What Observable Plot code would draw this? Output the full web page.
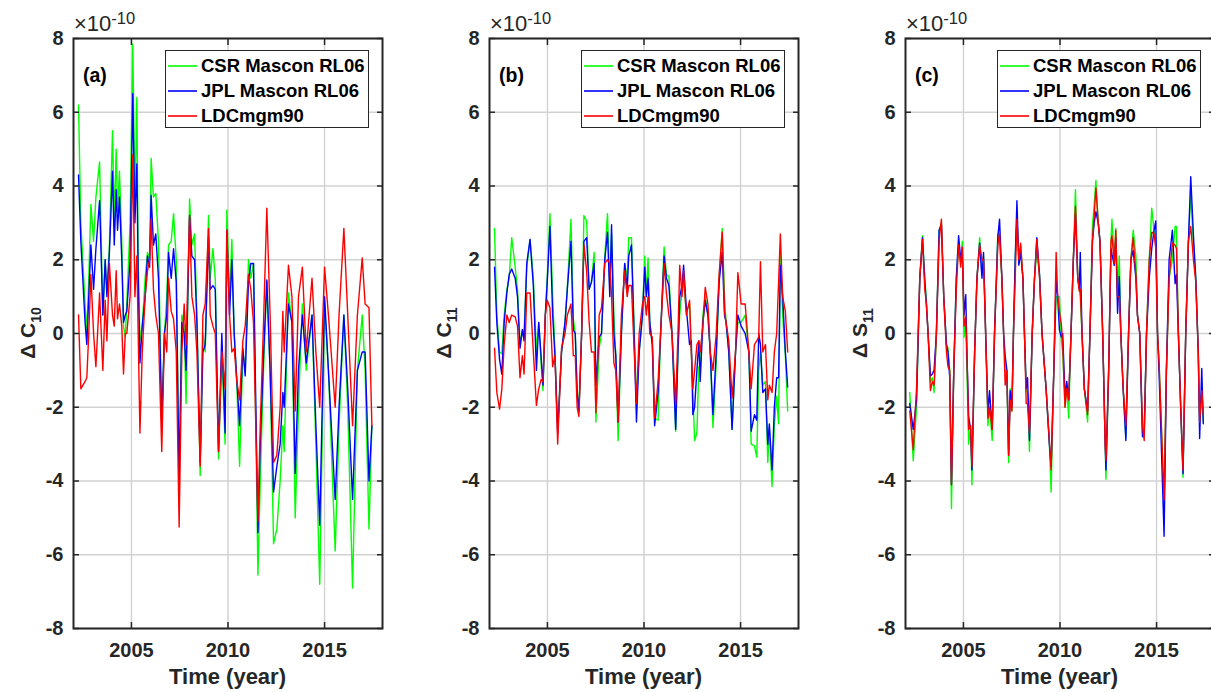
<!DOCTYPE html>
<html><head><meta charset="utf-8">
<script src="https://cdn.jsdelivr.net/npm/d3@7"></script>
<script src="https://cdn.jsdelivr.net/npm/@observablehq/plot@0.6"></script>
<style>
html,body{margin:0;padding:0;background:#fff;overflow:hidden;}
body{width:1211px;height:692px;position:relative;font-family:"Liberation Sans",Arial,Helvetica,sans-serif;color:#262626;}
.panel{position:absolute;top:0;width:404px;height:692px;}
.panel > svg{position:absolute;left:0;top:0;}
.ov{position:absolute;white-space:nowrap;line-height:1;}
.legend{position:absolute;box-sizing:border-box;border:1.5px solid #262626;background:#fff;}
.row{position:absolute;left:0;height:24px;display:flex;align-items:center;font-weight:bold;font-size:18.5px;color:#000;}
.swatch{display:block;flex:none;margin-left:2px;margin-right:4px;}
</style></head>
<body>
<script>
// ---------- data (values ×1e-10) ----------
const seriesNames = ["CSR Mascon RL06", "JPL Mascon RL06", "LDCmgm90"];
const seriesColors = ["#00ff00", "#0000ff", "#ff0000"];
const xTicks = [2005, 2010, 2015];
const yTicks = [-8, -6, -4, -2, 0, 2, 4, 6, 8];

// Panel (a): ΔC10
const yearsA = [2002.26,2002.38,2002.60,2002.69,2002.79,2002.90,2003.04,2003.16,2003.35,2003.52,
 2003.64,2003.73,2003.86,2004.02,2004.11,2004.21,2004.28,2004.38,2004.50,2004.59,
 2004.68,2004.76,2004.93,2005.07,2005.18,2005.28,2005.35,2005.44,2005.56,2005.71,
 2005.83,2005.94,2006.02,2006.14,2006.26,2006.40,2006.57,2006.71,2006.83,2006.92,
 2007.06,2007.18,2007.32,2007.47,2007.61,2007.73,2007.83,2008.01,2008.13,2008.27,
 2008.39,2008.56,2008.70,2008.82,2008.99,2009.08,2009.22,2009.34,2009.51,2009.68,
 2009.85,2009.94,2010.08,2010.20,2010.32,2010.46,2010.60,2010.77,2010.89,2011.06,
 2011.18,2011.32,2011.55,2011.67,2011.84,2012.01,2012.18,2012.36,2012.53,2012.70,
 2012.84,2012.91,2013.13,2013.31,2013.48,2013.65,2013.85,2014.05,2014.35,2014.55,
 2014.75,2015.00,2015.20,2015.55,2015.75,2016.00,2016.20,2016.45,2016.70,2016.95,
 2017.10,2017.30,2017.45];
const csrA = [6.2,3.0,0.8,0.0,1.5,3.5,2.5,3.7,4.65,0.5,
 2.0,1.2,2.4,5.5,3.0,5.0,3.3,4.4,2.5,0.2,
 -0.1,0.8,3.0,7.85,3.5,6.4,2.0,-0.2,0.2,1.5,
 2.2,2.0,4.75,3.7,3.8,2.5,-2.4,0.0,1.0,2.4,
 2.5,3.25,2.0,-4.0,0.5,0.2,-1.9,3.65,2.4,2.7,
 0.5,-3.85,0.0,-0.5,3.2,1.5,2.3,1.5,-3.4,-0.5,
 -3.0,3.35,1.0,2.55,0.0,-1.4,-3.6,-0.5,-1.0,2.0,
 1.5,1.9,-6.55,-4.0,-1.0,1.4,-1.0,-5.7,-5.3,-4.0,
 -2.5,-3.2,1.1,0.3,-5.0,-2.0,0.8,-1.0,0.5,-3.0,
 -6.8,0.8,-1.0,-5.9,-2.5,0.5,-2.0,-6.9,-1.0,0.5,
 -1.0,-5.3,-2.5];
const jplA = [4.3,2.5,0.3,-0.3,1.0,2.4,1.2,2.3,3.6,0.5,
 2.0,1.0,2.2,4.4,2.4,3.9,2.8,3.7,2.0,0.3,
 0.5,0.6,2.0,6.5,3.0,4.6,1.5,-0.8,0.2,1.0,
 2.1,1.8,3.75,2.4,2.7,1.5,-2.4,0.0,0.5,2.2,
 1.5,2.3,1.4,-4.0,0.3,0.0,-1.0,3.2,2.1,2.0,
 0.3,-3.5,-0.5,-0.3,2.6,1.2,1.3,1.2,-3.2,0.0,
 -2.7,2.8,0.5,2.0,0.0,-1.3,-2.5,-0.4,-1.15,1.4,
 1.9,1.9,-5.4,-3.0,-0.6,1.45,-1.0,-4.3,-3.6,-3.0,
 -1.6,-2.0,0.8,0.3,-3.8,-1.0,0.5,-0.8,0.5,-2.5,
 -5.2,1.0,-1.0,-4.5,-2.0,0.5,-1.5,-4.5,-1.0,-0.5,
 -0.5,-4.0,-2.5];
const ldcA = [0.5,-1.5,-1.3,-1.2,0.0,1.6,0.0,-0.9,1.1,-1.0,
 0.9,-0.2,1.9,0.5,0.2,1.7,0.4,0.8,0.2,-1.1,
 0.0,0.0,1.0,4.85,1.0,2.1,0.0,-2.7,-0.5,1.0,
 1.7,2.0,3.1,1.2,0.5,0.0,-3.2,0.0,-0.5,1.5,
 0.6,0.4,-0.5,-5.25,-0.5,0.8,-0.3,3.2,1.0,0.5,
 -0.5,-3.6,0.5,0.8,2.85,0.5,0.2,0.0,-3.2,-0.5,
 -1.5,2.8,0.5,-0.5,-0.4,-1.3,-1.8,-0.2,0.2,1.6,
 1.2,0.3,-5.1,-2.5,0.3,3.4,0.5,-3.5,-3.3,-2.0,
 0.6,-0.5,1.85,1.0,-2.1,1.0,1.8,-0.5,1.5,-0.5,
 -2.0,1.8,0.5,-2.0,0.5,2.85,0.5,-2.5,0.5,2.05,
 0.8,0.7,-2.5];

// Panel (b): ΔC11
const yearsB = [2002.26,2002.38,2002.52,2002.64,2002.76,2002.90,2003.02,2003.15,2003.33,2003.45,
 2003.58,2003.70,2003.79,2003.93,2004.10,2004.27,2004.43,2004.55,2004.67,2004.77,
 2004.89,2004.99,2005.13,2005.27,2005.39,2005.53,2005.73,2005.91,2006.03,2006.22,
 2006.34,2006.44,2006.54,2006.63,2006.77,2006.89,2007.03,2007.16,2007.28,2007.42,
 2007.51,2007.68,2007.80,2007.97,2008.11,2008.23,2008.32,2008.44,2008.54,2008.66,
 2008.83,2009.00,2009.13,2009.21,2009.35,2009.47,2009.61,2009.75,2009.92,2010.04,
 2010.12,2010.21,2010.30,2010.43,2010.55,2010.73,2010.86,2011.04,2011.16,2011.29,
 2011.45,2011.64,2011.76,2011.85,2011.97,2012.05,2012.19,2012.36,2012.45,2012.53,
 2012.62,2012.74,2012.84,2012.91,2013.05,2013.17,2013.31,2013.43,2013.57,2013.74,
 2013.89,2014.05,2014.17,2014.25,2014.39,2014.56,2014.74,2014.86,2015.03,2015.24,
 2015.43,2015.55,2015.72,2015.84,2015.94,2016.03,2016.15,2016.29,2016.41,2016.49,
 2016.63,2016.75,2016.87,2016.97,2017.06,2017.18,2017.32,2017.44];
const csrB = [2.85,0.5,-0.5,-0.55,0.5,1.2,1.5,2.6,1.8,1.2,
 -0.3,0.1,0.0,1.8,2.55,1.5,-0.5,0.3,-0.8,-1.55,
 0.5,1.5,3.25,1.0,-0.5,-2.6,-0.5,0.3,1.25,3.1,
 0.4,0.0,-1.5,-2.1,0.0,3.2,3.05,1.2,1.4,2.2,
 -2.4,-0.4,0.0,2.1,3.25,1.2,2.7,0.5,-0.6,-2.9,
 0.0,1.9,1.5,2.6,2.6,0.5,-1.8,-0.5,0.5,2.1,
 1.0,2.05,0.3,-0.3,-2.3,-2.35,0.0,2.35,1.6,1.55,
 0.0,-2.65,-0.5,0.5,1.2,1.4,0.6,0.8,-0.5,-1.6,
 -2.9,-2.7,-0.9,-0.9,0.5,1.0,0.5,-0.5,-2.55,-0.8,
 1.5,2.85,1.0,0.3,-0.5,-2.6,-0.5,0.3,0.3,0.5,
 -0.5,-3.0,-3.05,-3.35,-1.0,-0.5,-1.4,-1.3,-3.5,-2.6,
 -4.15,-2.5,-1.7,-2.45,2.15,0.5,-0.6,-2.1];
const jplB = [1.8,0.3,-0.7,-1.1,0.3,1.1,1.6,1.75,1.5,1.0,
 -0.4,0.1,-0.2,1.9,2.55,1.3,-1.0,0.3,-0.6,-1.4,
 0.5,1.4,2.9,0.5,-0.6,-2.7,-0.5,0.3,1.2,2.5,
 0.1,0.0,-1.65,-2.1,0.0,2.5,2.6,1.2,1.4,1.9,
 -1.4,-0.1,0.0,2.0,2.75,1.0,2.95,0.0,-0.6,-2.4,
 0.0,1.9,1.2,2.1,2.4,0.3,-2.4,-0.5,0.5,1.8,
 1.0,1.5,0.3,-0.3,-2.5,-1.6,0.0,2.1,1.5,1.3,
 0.0,-2.6,-0.5,1.0,1.3,1.85,0.7,-0.3,-0.2,-2.2,
 -2.0,-1.0,-0.2,-1.3,0.3,0.9,0.5,-0.5,-2.2,-0.5,
 1.4,2.2,0.5,0.3,-0.5,-2.6,-0.5,0.5,0.2,0.0,
 -0.5,-2.65,-2.2,-2.35,0.0,-0.3,-1.6,-1.5,-3.0,-2.45,
 -3.7,-2.0,-1.2,-1.2,1.85,1.0,-0.5,-1.45];
const ldcB = [-0.4,-1.6,-2.05,-1.5,-0.3,0.5,0.3,0.5,0.45,0.2,
 -1.2,-0.6,-1.1,1.1,1.1,-0.5,-1.95,-1.5,-1.25,-1.3,
 0.5,0.9,0.7,-0.9,-0.6,-3.0,-0.4,0.0,0.5,0.8,
 -0.6,-0.6,-2.0,-2.25,0.0,2.4,1.7,0.3,-0.5,-0.5,
 -2.15,0.5,0.7,1.9,2.0,1.9,1.0,-0.8,-1.0,-2.4,
 0.5,1.7,1.0,1.3,1.3,-0.2,-1.9,0.0,0.8,1.0,
 0.5,1.0,0.0,-0.1,-2.3,-1.3,0.0,1.9,1.1,0.5,
 0.0,-1.9,0.0,1.85,1.0,1.7,0.5,0.9,-0.5,-1.5,
 -1.0,-0.3,-0.2,-0.5,0.2,1.25,0.8,-0.5,-1.0,0.0,
 1.6,2.75,0.6,0.3,-0.2,-1.75,-0.5,1.65,0.8,0.8,
 -0.5,-1.5,-0.3,-0.2,-0.1,1.95,-0.5,-0.3,-1.8,-1.4,
 -1.6,-0.5,0.0,1.4,2.7,1.0,0.6,-0.5];

// Panel (c): ΔS11
const yearsC = [2002.22,2002.40,2002.57,2002.74,2002.88,2003.00,2003.08,2003.17,2003.29,2003.39,
 2003.48,2003.60,2003.74,2003.86,2003.98,2004.12,2004.20,2004.29,2004.38,2004.50,
 2004.63,2004.75,2004.86,2004.94,2005.03,2005.12,2005.18,2005.27,2005.37,2005.44,
 2005.58,2005.70,2005.84,2005.96,2006.04,2006.15,2006.27,2006.35,2006.49,2006.61,
 2006.78,2006.87,2006.99,2007.08,2007.16,2007.25,2007.34,2007.42,2007.51,2007.59,
 2007.68,2007.77,2007.87,2007.96,2008.08,2008.16,2008.25,2008.32,2008.42,2008.56,
 2008.68,2008.80,2008.94,2009.07,2009.28,2009.45,2009.54,2009.68,2009.80,2009.88,
 2009.97,2010.07,2010.14,2010.26,2010.35,2010.45,2010.57,2010.69,2010.80,2010.92,
 2011.00,2011.05,2011.14,2011.26,2011.43,2011.55,2011.68,2011.77,2011.86,2011.98,
 2012.07,2012.21,2012.34,2012.38,2012.52,2012.64,2012.69,2012.81,2012.89,2012.98,
 2013.07,2013.15,2013.27,2013.41,2013.55,2013.67,2013.79,2013.93,2014.01,2014.13,
 2014.27,2014.36,2014.48,2014.62,2014.75,2014.87,2014.96,2015.05,2015.13,2015.39,
 2015.51,2015.65,2015.82,2015.96,2016.03,2016.13,2016.25,2016.37,2016.51,2016.65,
 2016.77,2016.91,2017.03,2017.16,2017.23,2017.34,2017.42];
const csrC = [-1.6,-3.45,-2.0,1.5,2.65,1.5,0.9,0.0,-1.3,-1.2,
 -1.6,0.0,2.8,3.0,1.0,-0.3,-0.4,-1.0,-4.75,-1.0,
 1.5,2.4,1.9,2.5,-0.1,0.3,-1.0,-3.0,-2.5,-4.1,
 -0.5,1.5,2.6,1.6,2.1,0.0,-2.5,-2.0,-2.9,0.0,
 2.7,2.5,1.5,0.0,-1.0,-1.2,-3.5,-1.5,-2.1,0.0,
 2.0,3.2,1.9,2.4,1.5,0.0,-1.55,-1.6,-3.2,0.0,
 1.5,2.2,1.6,0.0,-1.5,-3.0,-4.3,-1.0,1.0,1.0,
 1.0,-0.2,-0.5,-2.0,-1.4,-2.3,0.0,2.0,3.9,1.5,
 1.2,1.0,0.0,-1.5,-2.4,0.0,2.9,3.5,4.15,3.0,
 2.5,0.0,-3.0,-3.95,-1.0,2.5,3.1,2.0,2.85,1.0,
 2.1,0.0,-1.5,-2.8,0.0,2.0,2.8,2.1,0.5,0.0,
 -2.7,-2.7,0.0,2.0,3.4,2.8,2.5,0.0,-0.8,-4.6,
 -1.0,1.5,2.0,2.9,2.9,0.0,-2.0,-3.9,0.0,2.5,
 3.8,2.4,1.5,-0.5,-2.4,-1.5,-2.4];
const jplC = [-1.9,-2.6,-1.8,1.5,2.6,1.4,0.8,0.0,-1.15,-1.1,
 -1.0,0.0,2.8,2.95,1.0,-0.3,-0.5,-1.2,-4.1,-1.0,
 1.5,2.65,2.0,2.3,0.5,1.05,-0.5,-2.25,-2.6,-3.7,
 -0.5,1.5,2.45,1.5,2.2,0.0,-2.2,-1.55,-2.6,0.0,
 2.6,3.1,1.5,0.0,-0.6,-1.0,-3.3,-1.55,-2.0,0.0,
 2.0,3.6,1.85,2.2,1.5,0.0,-1.5,-1.2,-2.9,0.0,
 1.5,2.6,1.6,0.0,-1.5,-3.0,-3.6,-1.0,1.5,1.0,
 0.1,-0.1,0.0,-1.7,-1.3,-1.8,0.0,2.0,3.25,1.5,
 1.2,2.2,0.0,-1.5,-2.1,0.0,2.5,3.0,3.3,3.0,
 2.5,0.0,-3.0,-3.7,-1.0,2.3,2.15,1.85,2.6,0.55,
 1.55,0.0,-1.5,-2.9,0.0,2.0,2.25,1.5,0.5,0.0,
 -2.8,-2.7,0.0,1.5,2.3,2.8,3.05,0.0,-1.05,-5.5,
 -1.0,2.0,2.8,1.35,1.6,0.0,-2.0,-3.8,0.0,2.5,
 4.25,2.65,1.5,-0.5,-2.85,-0.95,-2.45];
const ldcC = [-2.1,-3.15,-1.5,1.5,2.55,1.2,0.8,0.0,-1.55,-1.3,
 -1.4,0.0,2.5,3.1,1.0,-0.5,-0.9,-1.0,-4.1,-1.0,
 1.2,2.4,1.8,2.35,0.2,0.45,-0.5,-2.6,-2.5,-3.6,
 -0.5,1.5,2.4,2.0,2.0,0.0,-2.3,-2.0,-2.6,0.0,
 2.4,2.7,1.5,0.0,-1.4,-1.0,-3.3,-1.8,-2.1,0.0,
 1.5,3.1,2.0,2.45,1.5,0.0,-1.9,-1.9,-2.7,0.0,
 1.5,2.55,1.5,0.0,-1.5,-2.9,-3.7,-1.0,2.2,1.0,
 0.6,0.25,-0.3,-2.0,-1.5,-1.8,0.0,2.0,3.45,1.5,
 1.15,1.2,0.0,-1.5,-2.2,0.0,2.5,3.2,3.95,3.0,
 2.5,0.0,-3.0,-3.45,-1.0,2.5,2.65,1.9,2.8,1.0,
 1.0,0.0,-1.5,-2.5,0.0,2.0,2.6,1.6,0.5,0.0,
 -2.5,-2.9,0.0,2.0,2.75,2.7,2.3,0.0,-0.8,-4.5,
 -1.0,1.5,2.45,2.4,2.3,0.0,-2.0,-3.7,0.0,2.5,
 2.9,2.0,1.4,-0.5,-2.4,-1.55,-2.2];

// ---------- layout ----------
const panels = [
  {left: 0,   tag: "(a)", ylab: "Δ C", ysub: "10", years: yearsA, vals: [csrA, jplA, ldcA]},
  {left: 416, tag: "(b)", ylab: "Δ C", ysub: "11", years: yearsB, vals: [csrB, jplB, ldcB]},
  {left: 832, tag: "(c)", ylab: "Δ S", ysub: "11", years: yearsC, vals: [csrC, jplC, ldcC]}
];
const W = 404, H = 692, mL = 73, mR = 22, mT = 38, mB = 64;
const INK = "#262626";

for (const p of panels) {
  p.vals.forEach((v, i) => { if (v.length !== p.years.length) console.error(p.tag, seriesNames[i], v.length, p.years.length); });
  const div = document.createElement("div");
  div.className = "panel";
  div.style.left = p.left + "px";
  document.body.appendChild(div);

  const lineMarks = p.vals.map((v, i) =>
    Plot.line(v, {x: p.years, y: v, stroke: seriesColors[i], strokeWidth: 1.4, strokeLinejoin: "round"}));

  const svg = Plot.plot({
    width: W, height: H,
    marginLeft: mL, marginRight: mR, marginTop: mT, marginBottom: mB,
    x: {domain: [2002, 2018]},
    y: {domain: [-8, 8]},
    style: {fontFamily: '"Liberation Sans", Arial, sans-serif', background: "transparent", overflow: "visible"},
    marks: [
      Plot.gridX(xTicks, {stroke: "#d2d2d2", strokeOpacity: 1, strokeWidth: 1.4}),
      Plot.gridY(yTicks, {stroke: "#d2d2d2", strokeOpacity: 1, strokeWidth: 1.4}),
      ...lineMarks,
      Plot.axisX(xTicks, {anchor: "bottom", tickSize: -6, tickPadding: 20, tickFormat: d => String(d), label: null,
        fontSize: 20, fontWeight: "bold", fill: INK, stroke: INK, strokeWidth: 1.5}),
      Plot.axisX(xTicks, {anchor: "top", tickSize: -6, tickFormat: () => "", label: null, stroke: INK, strokeWidth: 1.5}),
      Plot.axisY(yTicks, {anchor: "left", tickSize: -6, tickPadding: 16, tickFormat: d => String(d), label: null,
        fontSize: 20, fontWeight: "bold", fill: INK, stroke: INK, strokeWidth: 1.5}),
      Plot.axisY(yTicks, {anchor: "right", tickSize: -6, tickFormat: () => "", label: null, stroke: INK, strokeWidth: 1.5}),
      Plot.frame({stroke: INK, strokeWidth: 2})
    ]
  });
  div.appendChild(svg);

  const frameW = W - mL - mR;

  // exponent label
  const ex = document.createElement("div");
  ex.className = "ov";
  ex.style.cssText = `left:${mL + 1}px;top:13px;font-size:22px;`;
  ex.innerHTML = `×10<span style="position:relative;top:-7px;font-size:16.5px;">-10</span>`;
  div.appendChild(ex);

  // panel tag
  const tg = document.createElement("div");
  tg.className = "ov";
  tg.style.cssText = `left:${mL + 10}px;top:66px;font-size:19.5px;font-weight:bold;color:#000;`;
  tg.textContent = p.tag;
  div.appendChild(tg);

  // legend
  const lg = document.createElement("div");
  lg.className = "legend";
  lg.style.cssText = `left:${mL + 92}px;top:50px;width:204px;height:78px;`;
  seriesNames.forEach((name, i) => {
    const r = document.createElement("div");
    r.className = "row";
    r.style.top = (3 + 25 * i) + "px";
    r.innerHTML = `<svg class="swatch" width="29" height="6" viewBox="0 0 29 6"><line x1="0" y1="3" x2="29" y2="3" stroke="${seriesColors[i]}" stroke-width="1.6"/></svg><span>${name}</span>`;
    lg.appendChild(r);
  });
  div.appendChild(lg);

  // y label (rotated)
  const yl = document.createElement("div");
  yl.className = "ov";
  yl.style.cssText = `left:27px;top:${mT + (H - mT - mB) / 2}px;transform:translate(-50%,-50%) rotate(-90deg);font-size:21px;font-weight:bold;`;
  yl.innerHTML = `${p.ylab}<span style="position:relative;top:6px;font-size:14px;">${p.ysub}</span>`;
  div.appendChild(yl);

  // x label
  const xl = document.createElement("div");
  xl.className = "ov";
  xl.style.cssText = `left:${mL + frameW / 2}px;top:677px;transform:translate(-50%,-50%);font-size:22px;font-weight:bold;`;
  xl.textContent = "Time (year)";
  div.appendChild(xl);
}
</script>
</body></html>
